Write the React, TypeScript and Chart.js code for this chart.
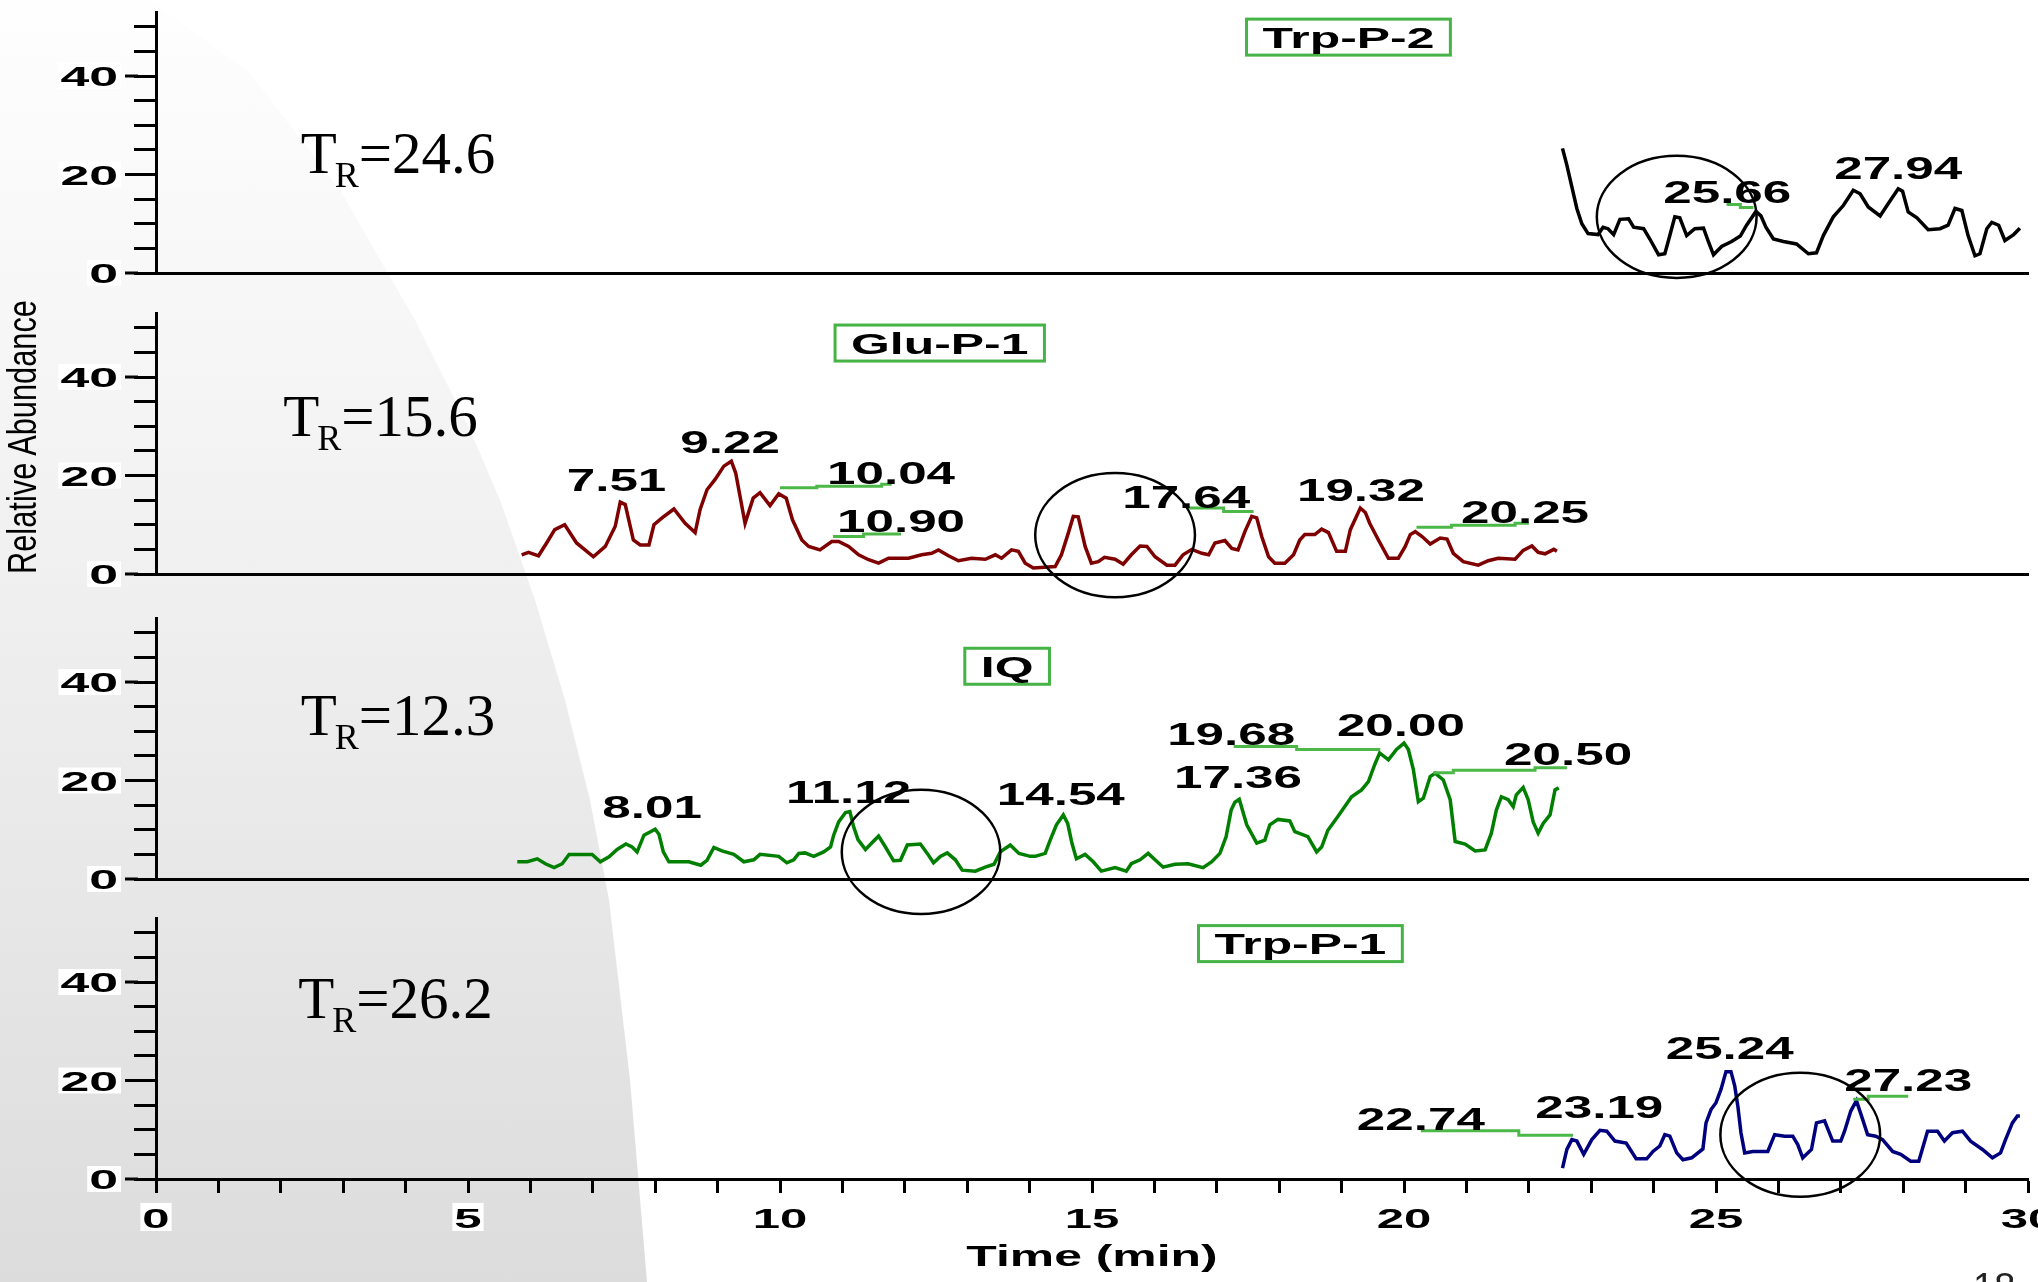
import { useEffect, useRef } from "react";
import { Chart, registerables } from "chart.js";

Chart.register(...registerables);

// Shared axes
const TIME_MIN = 0;
const TIME_MAX = 30;
const ABUNDANCE_MAX = 53;
const TIME_TICK_LABELS = [0, 5, 10, 15, 20, 25, 30];
const ABUNDANCE_TICK_LABELS = [0, 20, 40];

type Pt = [number, number];
type Peak = [string, number, number]; // label, time of label centre, abundance of label baseline

// Trp-P-2 (m/z trace), time in min vs relative abundance
const trpP2Trace: Pt[] = [
  [22.54, 25.3], [22.61, 21.9], [22.69, 17.5], [22.77, 13.1], [22.85, 10.0], [22.95, 8.0], [23.11, 7.8],
  [23.19, 9.3], [23.27, 9.0], [23.36, 7.8], [23.46, 10.9], [23.6, 11.0], [23.68, 9.3], [23.84, 9.0],
  [23.94, 6.9], [24.08, 3.7], [24.18, 3.9], [24.26, 7.6], [24.34, 11.4], [24.42, 11.2], [24.53, 7.6],
  [24.66, 9.0], [24.8, 9.1], [24.88, 6.3], [24.96, 3.7], [25.09, 5.4], [25.25, 6.4], [25.39, 7.5],
  [25.49, 9.7], [25.64, 12.5], [25.72, 11.6], [25.8, 9.3], [25.92, 6.9], [26.08, 6.4], [26.29, 5.9],
  [26.48, 3.9], [26.61, 4.1], [26.72, 7.6], [26.88, 11.4], [27.04, 13.7], [27.2, 16.8], [27.31, 16.1],
  [27.44, 13.4], [27.63, 11.6], [27.74, 13.7], [27.92, 17.1], [27.99, 16.6], [28.08, 12.4], [28.22, 11.2],
  [28.4, 8.8], [28.59, 9.0], [28.72, 9.7], [28.83, 13.1], [28.94, 12.7], [29.04, 7.6], [29.15, 3.5],
  [29.23, 3.9], [29.34, 9.0], [29.42, 10.3], [29.53, 9.7], [29.63, 6.6], [29.77, 7.8], [29.87, 9.1],
];
const trpP2Peaks: Peak[] = [["25.66", 25.18, 14.3], ["27.94", 27.92, 19.0]];
const trpP2Connectors: Pt[][] = [[[25.17, 13.9], [25.39, 13.9], [25.39, 13.3], [25.6, 13.3]]];

// Glu-P-1
const gluP1Trace: Pt[] = [
  [5.86, 3.9], [5.97, 4.4], [6.13, 3.7], [6.26, 6.3], [6.39, 9.0], [6.55, 10.0], [6.74, 6.3], [7.01, 3.5],
  [7.2, 5.6], [7.36, 9.7], [7.44, 14.6], [7.52, 14.1], [7.65, 6.9], [7.76, 5.9], [7.9, 5.9], [7.98, 10.0],
  [8.11, 11.4], [8.3, 13.2], [8.48, 10.3], [8.64, 8.4], [8.72, 13.1], [8.83, 17.1], [8.96, 19.2], [9.1, 21.9],
  [9.22, 22.9], [9.29, 20.5], [9.44, 10.3], [9.57, 15.4], [9.68, 16.5], [9.84, 13.9], [9.98, 16.3],
  [10.1, 15.4], [10.2, 11.0], [10.35, 6.9], [10.46, 5.6], [10.64, 4.9], [10.83, 6.6], [10.94, 6.6],
  [11.1, 5.6], [11.26, 3.9], [11.42, 2.9], [11.58, 2.2], [11.74, 3.2], [12.06, 3.2], [12.27, 3.9],
  [12.43, 4.2], [12.54, 4.9], [12.7, 3.7], [12.86, 2.7], [13.07, 3.2], [13.29, 3.0], [13.45, 3.9],
  [13.55, 3.2], [13.71, 4.9], [13.82, 4.6], [13.93, 2.2], [14.06, 1.2], [14.41, 1.5], [14.51, 3.9],
  [14.62, 8.3], [14.7, 11.7], [14.78, 11.6], [14.89, 5.6], [14.99, 2.2], [15.1, 2.5], [15.2, 3.4],
  [15.37, 3.0], [15.5, 2.0], [15.63, 3.9], [15.77, 5.7], [15.88, 5.6], [16.01, 3.5], [16.2, 1.8],
  [16.33, 1.8], [16.46, 3.9], [16.6, 5.0], [16.76, 4.2], [16.87, 3.9], [16.97, 6.3], [17.13, 6.8],
  [17.24, 5.2], [17.34, 4.9], [17.45, 8.6], [17.56, 11.7], [17.64, 11.4], [17.72, 7.6], [17.83, 3.5],
  [17.93, 2.2], [18.09, 2.2], [18.23, 3.9], [18.33, 6.9], [18.41, 8.0], [18.57, 8.0], [18.68, 9.1],
  [18.79, 8.4], [18.92, 4.6], [19.06, 4.6], [19.14, 9.0], [19.3, 13.4], [19.38, 12.5], [19.45, 10.3],
  [19.59, 6.9], [19.75, 3.2], [19.91, 3.2], [20.02, 5.6], [20.1, 8.0], [20.18, 8.6], [20.29, 7.6],
  [20.42, 6.1], [20.58, 7.3], [20.69, 7.1], [20.79, 4.2], [20.95, 2.5], [21.19, 1.8], [21.35, 2.7],
  [21.51, 3.2], [21.78, 3.0], [21.91, 4.8], [22.05, 5.7], [22.15, 4.4], [22.26, 4.1], [22.4, 5.0],
  [22.45, 4.6],
];
const gluP1Peaks: Peak[] = [
  ["7.51", 7.38, 16.8], ["9.22", 9.2, 24.5], ["10.04", 11.78, 18.3], ["10.90", 11.94, 8.5],
  ["17.64", 16.51, 13.4], ["19.32", 19.31, 14.9], ["20.25", 21.94, 10.4],
];
const gluP1Connectors: Pt[][] = [
  [[10.0, 17.5], [10.59, 17.5], [10.59, 17.8], [11.63, 17.8], [11.63, 18.2], [11.79, 18.2]],
  [[10.85, 7.6], [11.34, 7.6], [11.34, 8.1], [11.94, 8.1]],
  [[16.52, 13.4], [17.11, 13.4], [17.11, 12.7], [17.59, 12.7]],
  [[20.2, 9.5], [20.76, 9.5], [20.76, 9.9], [21.78, 9.9], [21.78, 10.3], [22.0, 10.3]],
];

// IQ
const iqTrace: Pt[] = [
  [5.79, 3.5], [5.95, 3.5], [6.11, 4.1], [6.24, 3.1], [6.38, 2.3], [6.51, 3.1], [6.62, 5.0], [6.78, 5.0],
  [6.99, 5.0], [7.12, 3.5], [7.26, 4.5], [7.39, 6.0], [7.53, 7.1], [7.63, 6.5], [7.71, 5.5], [7.82, 8.9],
  [8.0, 10.1], [8.06, 9.1], [8.13, 5.5], [8.22, 3.5], [8.54, 3.5], [8.73, 2.8], [8.83, 3.8], [8.94, 6.4],
  [9.07, 5.7], [9.26, 5.0], [9.42, 3.5], [9.58, 3.9], [9.68, 5.0], [9.98, 4.6], [10.11, 3.3], [10.22, 3.9],
  [10.3, 5.2], [10.4, 5.3], [10.54, 4.6], [10.7, 5.5], [10.81, 6.5], [10.86, 8.9], [10.94, 11.6],
  [11.05, 13.5], [11.12, 13.7], [11.18, 10.6], [11.25, 8.0], [11.37, 6.0], [11.47, 7.3], [11.58, 8.7],
  [11.69, 6.5], [11.82, 3.7], [11.93, 3.8], [12.04, 6.9], [12.25, 7.1], [12.36, 5.2], [12.46, 3.3],
  [12.57, 4.6], [12.68, 5.3], [12.81, 3.9], [12.92, 1.8], [13.13, 1.6], [13.29, 2.4], [13.43, 3.0],
  [13.53, 5.5], [13.69, 6.9], [13.83, 5.2], [14.01, 4.6], [14.09, 4.6], [14.25, 5.2], [14.33, 7.9],
  [14.43, 11.0], [14.54, 13.0], [14.61, 11.3], [14.68, 7.2], [14.75, 4.1], [14.89, 5.0], [15.02, 3.5],
  [15.15, 1.6], [15.37, 2.3], [15.55, 1.6], [15.63, 3.1], [15.77, 3.9], [15.9, 5.2], [16.01, 3.9],
  [16.14, 2.4], [16.33, 3.0], [16.54, 3.1], [16.78, 2.3], [16.92, 3.5], [17.05, 5.2], [17.15, 8.6],
  [17.23, 14.0], [17.29, 15.6], [17.36, 16.2], [17.48, 11.0], [17.64, 7.3], [17.77, 7.9], [17.85, 11.0],
  [17.98, 12.1], [18.17, 11.8], [18.25, 9.6], [18.46, 8.6], [18.6, 5.5], [18.68, 6.5], [18.78, 9.9],
  [18.94, 12.7], [19.16, 16.7], [19.32, 18.1], [19.43, 19.8], [19.53, 23.2], [19.61, 25.6], [19.75, 24.2],
  [19.88, 26.3], [20.0, 27.6], [20.07, 26.3], [20.15, 22.2], [20.23, 15.7], [20.31, 16.4], [20.42, 20.8],
  [20.5, 21.5], [20.63, 20.1], [20.74, 16.1], [20.82, 7.6], [20.98, 7.1], [21.14, 5.7], [21.3, 5.9],
  [21.4, 9.3], [21.48, 14.0], [21.56, 16.7], [21.67, 16.1], [21.75, 14.7], [21.8, 17.1], [21.91, 18.6],
  [21.99, 16.1], [22.07, 11.6], [22.15, 9.3], [22.23, 11.3], [22.34, 13.0], [22.42, 18.1], [22.48, 18.5],
];
const iqPeaks: Peak[] = [
  ["8.01", 7.95, 12.4], ["11.12", 11.1, 15.5], ["14.54", 14.5, 15.0], ["17.36", 17.34, 18.4],
  ["19.68", 17.23, 27.2], ["20.00", 19.95, 29.0], ["20.50", 22.63, 23.2],
];
const iqConnectors: Pt[][] = [
  [[17.27, 26.9], [18.28, 26.9], [18.28, 26.3], [19.62, 26.3]],
  [[20.47, 21.6], [20.79, 21.6], [20.79, 22.1], [22.1, 22.1], [22.1, 22.6], [22.61, 22.6]],
];

// Trp-P-1
const trpP1Trace: Pt[] = [
  [22.54, 2.2], [22.61, 6.0], [22.69, 8.0], [22.77, 7.7], [22.88, 5.0], [23.01, 8.0], [23.14, 9.9],
  [23.25, 9.7], [23.38, 7.7], [23.56, 7.3], [23.72, 4.1], [23.89, 4.1], [23.99, 5.6], [24.1, 6.7],
  [24.18, 9.0], [24.26, 8.7], [24.37, 5.3], [24.47, 3.9], [24.61, 4.3], [24.79, 6.1], [24.84, 11.4],
  [24.92, 14.1], [25.0, 15.5], [25.08, 18.2], [25.16, 21.8], [25.24, 21.8], [25.3, 18.9], [25.35, 14.8],
  [25.4, 9.4], [25.46, 5.3], [25.59, 5.6], [25.83, 5.6], [25.94, 9.0], [26.1, 8.7], [26.23, 8.7],
  [26.31, 7.0], [26.39, 4.3], [26.53, 6.0], [26.61, 11.4], [26.74, 11.8], [26.87, 7.7], [27.0, 7.7],
  [27.06, 9.7], [27.16, 13.8], [27.25, 15.9], [27.35, 12.1], [27.43, 9.0], [27.56, 8.7], [27.67, 8.0],
  [27.83, 5.6], [27.96, 5.0], [28.12, 3.6], [28.25, 3.6], [28.39, 9.7], [28.55, 9.7], [28.66, 7.7],
  [28.79, 9.4], [28.95, 9.7], [29.08, 7.7], [29.27, 6.0], [29.43, 4.3], [29.56, 5.3], [29.64, 8.0],
  [29.75, 11.4], [29.83, 12.8], [29.87, 12.8],
];
const trpP1Peaks: Peak[] = [
  ["22.74", 20.27, 10.0], ["23.19", 23.13, 12.4], ["25.24", 25.22, 24.3], ["27.23", 28.08, 17.8],
];
const trpP1Connectors: Pt[][] = [
  [[20.27, 9.8], [21.84, 9.8], [21.84, 8.9], [22.71, 8.9]],
  [[27.2, 16.2], [27.44, 16.2], [27.44, 16.8], [28.08, 16.8]],
];

// Page geometry
const FRAME_W = 2038;
const FRAME_H = 1282;
const CANVAS_W = 2090;
const AXIS_X = 156;
const PLOT_RIGHT = 2028;
const PLOT_H = 261;
const PAD_TOP = 12;
const LOWER_MARGIN = 45;

const LABEL_GREEN = "#4cb848";
const SANS = '"Liberation Sans", Arial, sans-serif';
const SERIF = '"Liberation Serif", "Times New Roman", serif';

type Panel = {
  key: string;
  compound: string;
  compoundAt: Pt;
  retention: string;
  retentionAt: Pt;
  trace: Pt[];
  color: string;
  peaks: Peak[];
  connectors: Pt[][];
  ring: [number, number, number, number]; // centre time, centre abundance, half-width (min), half-height (abundance)
  baseline: number;
  showTime: boolean;
};

const panels: Panel[] = [
  {
    key: "trp2", compound: "Trp-P-2", compoundAt: [19.11, 47.9], retention: "=24.6", retentionAt: [2.32, 20.3],
    trace: trpP2Trace, color: "#000000", peaks: trpP2Peaks, connectors: trpP2Connectors,
    ring: [24.37, 11.4, 1.28, 12.4], baseline: 273, showTime: false,
  },
  {
    key: "glu1", compound: "Glu-P-1", compoundAt: [12.56, 46.9], retention: "=15.6", retentionAt: [2.04, 28.0],
    trace: gluP1Trace, color: "#7f0000", peaks: gluP1Peaks, connectors: gluP1Connectors,
    ring: [15.37, 7.9, 1.28, 12.6], baseline: 574, showTime: false,
  },
  {
    key: "iq", compound: "IQ", compoundAt: [13.64, 43.2], retention: "=12.3", retentionAt: [2.32, 29.2],
    trace: iqTrace, color: "#007f00", peaks: iqPeaks, connectors: iqConnectors,
    ring: [12.26, 5.5, 1.27, 12.6], baseline: 879, showTime: false,
  },
  {
    key: "trp1", compound: "Trp-P-1", compoundAt: [18.34, 47.8], retention: "=26.2", retentionAt: [2.28, 32.7],
    trace: trpP1Trace, color: "#00007f", peaks: trpP1Peaks, connectors: trpP1Connectors,
    ring: [26.35, 9.0, 1.28, 12.6], baseline: 1179, showTime: true,
  },
];

function measureWide(ctx: CanvasRenderingContext2D, text: string, size: number, sx: number) {
  ctx.save();
  ctx.font = `bold ${size}px ${SANS}`;
  const w = ctx.measureText(text).width * sx;
  ctx.restore();
  return w;
}

// Bold sans text widened horizontally, like the instrument's report font
function drawWide(
  ctx: CanvasRenderingContext2D, text: string, x: number, y: number,
  size: number, sx: number, align: "left" | "center" | "right",
) {
  const w = measureWide(ctx, text, size, sx);
  const left = align === "center" ? x - w / 2 : align === "right" ? x - w : x;
  ctx.save();
  ctx.font = `bold ${size}px ${SANS}`;
  ctx.textAlign = "left";
  ctx.textBaseline = "alphabetic";
  ctx.fillStyle = "#000";
  ctx.translate(left, y);
  ctx.scale(sx, 1);
  ctx.fillText(text, 0, 0);
  ctx.restore();
  return { left, w };
}

function decorations(panel: Panel) {
  return {
    id: "chromatogramDecor",
    afterDraw(chart: Chart) {
      const ctx = chart.ctx;
      const xs = chart.scales.x;
      const ys = chart.scales.y;
      const px = (t: number) => xs.getPixelForValue(t);
      const py = (v: number) => ys.getPixelForValue(v);
      const area = chart.chartArea;
      ctx.save();

      // abundance tick labels with longer major ticks
      for (const v of ABUNDANCE_TICK_LABELS) {
        const y = py(v);
        ctx.strokeStyle = "#000";
        ctx.lineWidth = 3;
        ctx.beginPath();
        ctx.moveTo(area.left - 31, y);
        ctx.lineTo(area.left - 18, y);
        ctx.stroke();
        const label = String(v);
        const w = measureWide(ctx, label, 28, 1.85);
        ctx.fillStyle = "#fff";
        ctx.fillRect(area.left - 38 - w - 2, y - 13, w + 5, 26);
        drawWide(ctx, label, area.left - 38, y + 10, 28, 1.85, "right");
      }

      // time tick labels and axis title on the bottom panel
      if (panel.showTime) {
        for (const t of TIME_TICK_LABELS) {
          const x = px(t);
          const label = String(t);
          const w = measureWide(ctx, label, 28, 1.75);
          ctx.fillStyle = "#fff";
          ctx.fillRect(x - w / 2 - 2, area.bottom + 24, w + 4, 28);
          drawWide(ctx, label, x, area.bottom + 49, 28, 1.75, "center");
        }
        drawWide(ctx, "Time (min)", (area.left + area.right) / 2, area.bottom + 87, 29, 1.72, "center");
      }

      // peak connectors
      ctx.strokeStyle = LABEL_GREEN;
      ctx.lineWidth = 3;
      for (const path of panel.connectors) {
        ctx.beginPath();
        path.forEach(([t, v], i) => (i === 0 ? ctx.moveTo(px(t), py(v)) : ctx.lineTo(px(t), py(v))));
        ctx.stroke();
      }

      // peak retention-time labels
      for (const [label, t, v] of panel.peaks) {
        drawWide(ctx, label, px(t), py(v), 31, 1.65, "center");
      }

      // compound name box
      const [ct, cv] = panel.compoundAt;
      const cx = px(ct);
      const cy = py(cv);
      const tw = measureWide(ctx, panel.compound, 29, 1.72);
      const bw = tw + 32;
      ctx.fillStyle = "#fff";
      ctx.fillRect(cx - bw / 2, cy - 18, bw, 36);
      ctx.strokeStyle = "#45b345";
      ctx.lineWidth = 3;
      ctx.strokeRect(cx - bw / 2, cy - 18, bw, 36);
      drawWide(ctx, panel.compound, cx, cy + 10.5, 29, 1.72, "center");

      // retention time note, T with subscript R
      const [rt, rv] = panel.retentionAt;
      let x = px(rt);
      const y = py(rv);
      ctx.fillStyle = "#000";
      ctx.textAlign = "left";
      ctx.textBaseline = "alphabetic";
      ctx.font = `59px ${SERIF}`;
      ctx.fillText("T", x, y);
      x += ctx.measureText("T").width - 2;
      ctx.font = `36px ${SERIF}`;
      ctx.fillText("R", x, y + 14);
      x += ctx.measureText("R").width;
      ctx.font = `59px ${SERIF}`;
      ctx.fillText(panel.retention, x, y);

      // highlighted region
      const [et, ev, erx, ery] = panel.ring;
      ctx.strokeStyle = "#000";
      ctx.lineWidth = 2.5;
      ctx.beginPath();
      ctx.ellipse(px(et), py(ev), Math.abs(px(et + erx) - px(et)), Math.abs(py(ev + ery) - py(ev)), 0, 0, Math.PI * 2);
      ctx.stroke();

      ctx.restore();
    },
  };
}

function ChromatogramPanel({ panel }: { panel: Panel }) {
  const ref = useRef<HTMLCanvasElement>(null);
  const xH = panel.showTime ? FRAME_H - panel.baseline : LOWER_MARGIN;
  const height = PAD_TOP + PLOT_H + xH;
  const top = panel.baseline - PLOT_H - PAD_TOP;

  useEffect(() => {
    if (!ref.current) return;
    const chart = new Chart(ref.current, {
      type: "line",
      data: {
        datasets: [
          {
            label: panel.compound,
            data: panel.trace.map(([x, y]) => ({ x, y })),
            borderColor: panel.color,
            borderWidth: 3.5,
            borderJoinStyle: "miter",
            pointRadius: 0,
            tension: 0,
            fill: false,
          },
        ],
      },
      options: {
        responsive: false,
        animation: false,
        events: [],
        layout: { padding: { top: PAD_TOP, left: 0, right: CANVAS_W - PLOT_RIGHT, bottom: 0 } },
        plugins: { legend: { display: false }, tooltip: { enabled: false } },
        scales: {
          x: {
            type: "linear",
            min: TIME_MIN,
            max: TIME_MAX,
            afterFit: (s: any) => { s.height = xH; },
            ticks: { display: false, stepSize: 1, includeBounds: false },
            grid: {
              display: panel.showTime,
              drawOnChartArea: false,
              drawTicks: true,
              tickLength: 14,
              tickWidth: 3,
              color: "#000",
            },
            border: { display: true, color: "#000", width: 3 },
          },
          y: {
            type: "linear",
            min: 0,
            max: ABUNDANCE_MAX,
            afterFit: (s: any) => { s.width = AXIS_X; },
            ticks: { display: false, stepSize: 5, includeBounds: false },
            grid: { drawOnChartArea: false, drawTicks: true, tickLength: 22, tickWidth: 3, color: "#000" },
            border: { display: true, color: "#000", width: 3 },
          },
        },
      },
      plugins: [decorations(panel)],
    } as any);
    return () => chart.destroy();
  }, [panel]);

  return (
    <canvas
      ref={ref}
      width={CANVAS_W}
      height={height}
      style={{ position: "absolute", left: 0, top, width: CANVAS_W, height, display: "block" }}
    />
  );
}

export default function App() {
  return (
    <div
      style={{
        position: "fixed", left: 0, top: 0, width: FRAME_W, height: FRAME_H,
        overflow: "hidden", background: "#fff",
      }}
    >
      <div
        style={{
          position: "absolute", left: 0, top: 0, width: 700, height: FRAME_H,
          background: "linear-gradient(180deg, #fefefe 0%, #f5f5f5 30%, #e9e9e9 65%, #dcdcdc 100%)",
          clipPath:
            "polygon(0 0, 150px 0, 250px 73px, 340px 190px, 415px 320px, 470px 430px, 500px 500px, 535px 600px, 565px 700px, 590px 800px, 609px 900px, 630px 1080px, 647px 1282px, 0 1282px)",
        }}
      />
      {panels.map((p) => (
        <ChromatogramPanel key={p.key} panel={p} />
      ))}
      <div
        style={{
          position: "absolute", left: 22, top: 437,
          transform: "translate(-50%, -50%) rotate(-90deg) scaleX(0.77)",
          font: `40px ${SANS}`, lineHeight: 1, whiteSpace: "nowrap", color: "#000",
        }}
      >
        Relative Abundance
      </div>
      <div
        style={{
          position: "absolute", left: 1973, top: 1268,
          font: `38px ${SANS}`, lineHeight: 1, color: "#222",
        }}
      >
        18
      </div>
    </div>
  );
}
